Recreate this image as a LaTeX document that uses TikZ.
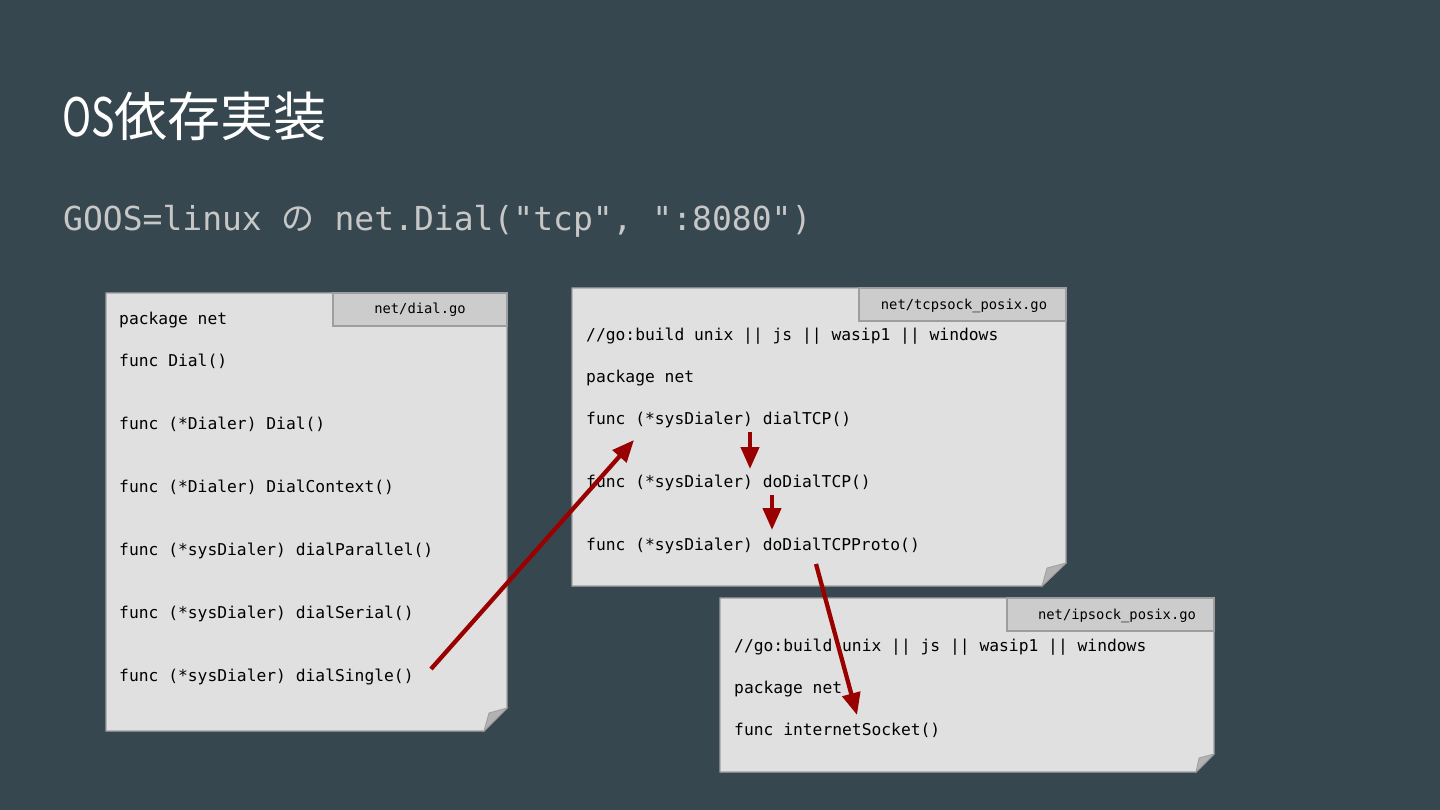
\documentclass[tikz,border=0pt]{standalone}
\usepackage{fontspec}
\setmonofont{DejaVu Sans Mono}
\newfontfamily\jpfont{Noto Sans CJK JP}
\usetikzlibrary{arrows.meta}
\definecolor{slidebg}{HTML}{37474F}
\definecolor{paper}{HTML}{E0E0E0}
\definecolor{paperline}{HTML}{9E9E9E}
\definecolor{tabfill}{HTML}{CCCCCC}
\definecolor{callred}{HTML}{990000}
\begin{document}
\begin{tikzpicture}
  [x=1pt,y=-1pt,
   card/.style={fill=paper,draw=paperline,line width=1.2pt},
   fold/.style={fill=black!30,draw=paperline,line width=0.8pt},
   tab/.style={fill=tabfill,draw=paperline,line width=1.2pt},
   tabname/.style={font=\ttfamily\fontsize{13.8}{16}\selectfont,inner sep=0pt},
   code/.style={anchor=base west,inner sep=0pt,font=\ttfamily\fontsize{16.3}{20}\selectfont},
   call/.style={draw=callred,line width=4.3pt,-{Triangle[length=22pt,width=18pt]}}]
\useasboundingbox (0,0) rectangle (1440,810);
\fill[slidebg] (0,0) rectangle (1440,810);

% titre
\node (title) [anchor=base west,inner sep=0pt,text=white,font=\jpfont\fontsize{53}{60}\selectfont] at (62,137) {\scalebox{0.74}[1]{OS}依存実装};
\node (goos) [anchor=base west,inner sep=0pt,text=black!22,font=\ttfamily\fontsize{33}{38}\selectfont] at (63,231) {GOOS=linux {\jpfont の} net.Dial("tcp", ":8080")};

% net/dial.go
\draw[card] (106,293) -- (507,293) -- (507,708) -- (484,731) -- (106,731) -- cycle;
\draw[fold] (507,708) -- (484,731) -- (489,713) -- cycle;
\draw[tab] (333,293) rectangle (507,326);
\node (dialfile) [tabname] at (420,310) {net/dial.go};
\node (d1) [code] at (119,324) {package net};
\node (d2) [code] at (119,366) {func Dial()};
\node (d3) [code] at (119,429) {func (*Dialer) Dial()};
\node (d4) [code] at (119,492) {func (*Dialer) DialContext()};
\node (d5) [code] at (119,555) {func (*sysDialer) dialParallel()};
\node (d6) [code] at (119,618) {func (*sysDialer) dialSerial()};
\node (d7) [code] at (119,681) {func (*sysDialer) dialSingle()};

% net/tcpsock_posix.go
\draw[card] (572,288) -- (1066,288) -- (1066,563) -- (1042,586) -- (572,586) -- cycle;
\draw[fold] (1066,563) -- (1042,586) -- (1047,568) -- cycle;
\draw[tab] (859,288) rectangle (1066,321);
\node (tcpfile) [tabname] at (964,306) {net/tcpsock\_posix.go};
\node (t1) [code] at (586,340) {//go:build unix || js || wasip1 || windows};
\node (t2) [code] at (586,382) {package net};
\node (t3) [code] at (586,424) {func (*sysDialer) dialTCP()};
\node (t4) [code] at (586,487) {func (*sysDialer) doDialTCP()};
\node (t5) [code] at (586,550) {func (*sysDialer) doDialTCPProto()};

% net/ipsock_posix.go
\draw[card] (720,598) -- (1214,598) -- (1214,754) -- (1196,772) -- (720,772) -- cycle;
\draw[fold] (1214,754) -- (1196,772) -- (1199,758) -- cycle;
\draw[tab] (1007,598) rectangle (1214,631);
\node (ipfile) [tabname] at (1117,616) {net/ipsock\_posix.go};
\node (i1) [code] at (734,651) {//go:build unix || js || wasip1 || windows};
\node (i2) [code] at (734,693) {package net};
\node (i3) [code] at (734,735) {func internetSocket()};

% appels
\coordinate (singleend) at (431,669);
\coordinate (tcpin) at (634,440);
\coordinate (tcpout) at (750,432);
\coordinate (dotcpin) at (750,469);
\coordinate (dotcpout) at (772,495);
\coordinate (protoin) at (772,530);
\coordinate (protoout) at (816,564);
\coordinate (sockin) at (857,715);
\draw[call] (singleend) -- (tcpin);
\draw[call] (tcpout) -- (dotcpin);
\draw[call] (dotcpout) -- (protoin);
\draw[call] (protoout) -- (sockin);
\end{tikzpicture}
\end{document}
